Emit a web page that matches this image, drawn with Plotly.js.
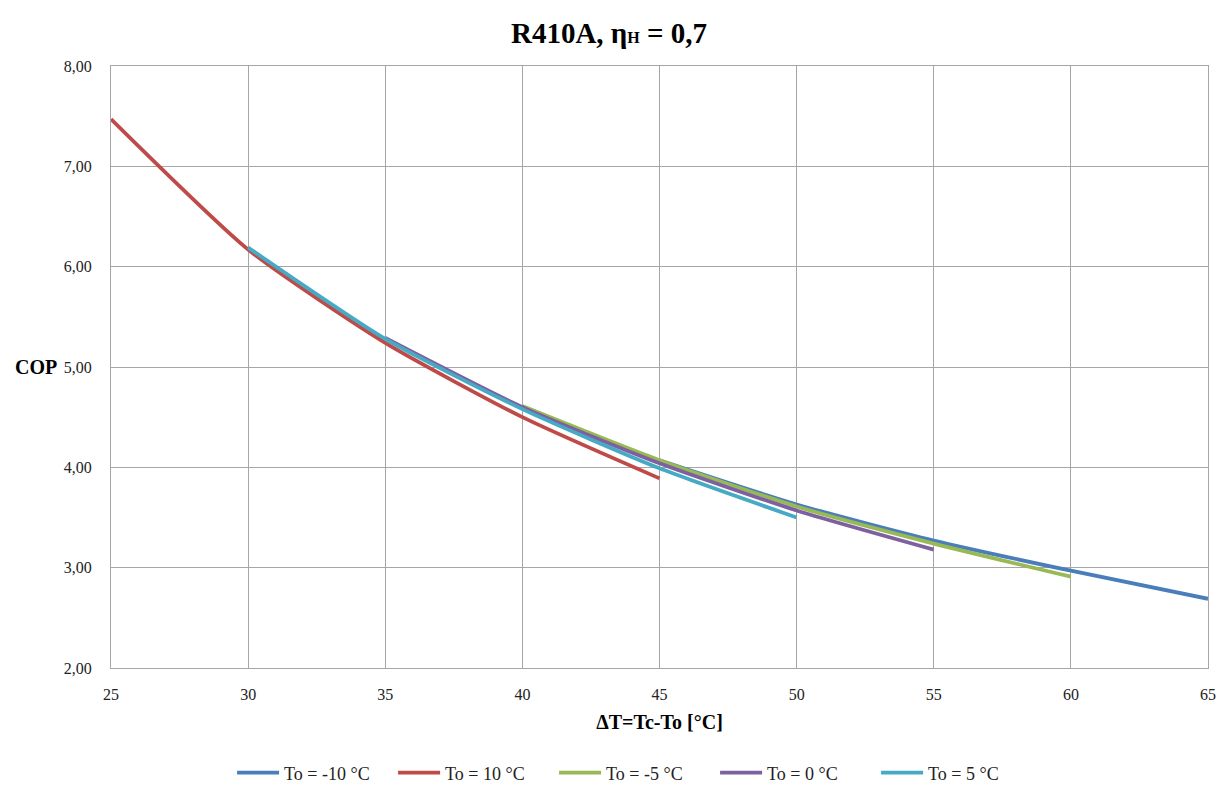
<!DOCTYPE html>
<html>
<head>
<meta charset="utf-8">
<script src="https://cdn.plot.ly/plotly-3.0.1.min.js"></script>
<style>html,body{margin:0;padding:0;background:#fff}</style>
</head>
<body>
<div id="chart" style="width:1218px;height:785px"></div>
<script>
const seriesNames = ["To = -10 °C", "To = 10 °C", "To = -5 °C", "To = 0 °C", "To = 5 °C"];
const xM10 = [45, 50, 55, 60, 65];
const yM10 = [4.07, 3.63, 3.27, 2.97, 2.69];
const xP10 = [25, 30, 35, 40, 45];
const yP10 = [7.47, 6.17, 5.24, 4.50, 3.89];
const xM5 = [40, 45, 50, 55, 60];
const yM5 = [4.61, 4.07, 3.61, 3.24, 2.91];
const x0 = [35, 40, 45, 50, 55];
const y0 = [5.29, 4.60, 4.04, 3.57, 3.18];
const xP5 = [30, 35, 40, 45, 50];
const yP5 = [6.19, 5.28, 4.58, 3.99, 3.50];
const colors = ["#4a7ebb", "#be4b48", "#98b954", "#7d60a0", "#46aac5"];
const xs = [xM10, xP10, xM5, x0, xP5];
const ys = [yM10, yP10, yM5, y0, yP5];

const serif = "'Liberation Serif', 'DejaVu Serif', serif";
const traces = seriesNames.map((n, i) => ({
  x: xs[i], y: ys[i], name: n, type: "scatter", mode: "lines",
  line: {color: colors[i], width: 3.8, shape: "spline", smoothing: 0.6}
}));
const layout = {
  width: 1218, height: 785,
  separators: ",.",
  paper_bgcolor: "#fff", plot_bgcolor: "#fff",
  margin: {l: 111, r: 10, t: 66, b: 117},
  title: {text: "<b>R410A, η<span style='font-size:16px'>H</span> = 0,7</b>", x: 0.5, xanchor: "center", y: 0.958, yanchor: "middle",
    font: {family: serif, size: 29, color: "#000"}},
  xaxis: {range: [25, 65], dtick: 5, tick0: 25, showgrid: true, gridcolor: "#a6a6a6", gridwidth: 1.3,
    showline: true, linecolor: "#a6a6a6", linewidth: 1.3, mirror: true, zeroline: false,
    ticks: "", tickfont: {family: serif, size: 16, color: "#222"}, ticklabelstandoff: 12,
    title: {text: "<b>ΔT=Tc-To [°C]</b>", font: {family: serif, size: 20, color: "#000"}, standoff: 12}},
  yaxis: {range: [2, 8], dtick: 1, tickformat: ".2f", showgrid: true, gridcolor: "#a6a6a6", gridwidth: 1.3,
    showline: true, linecolor: "#a6a6a6", linewidth: 1.3, mirror: true, zeroline: false,
    ticks: "", tickfont: {family: serif, size: 16, color: "#222"}, ticklabelstandoff: 15},
  legend: {orientation: "h", x: 0.521, xanchor: "center", xref: "container", y: 0.0153, yref: "container", yanchor: "middle",
    font: {family: serif, size: 18, color: "#222"}, itemwidth: 42, entrywidth: 104, entrywidthmode: "pixels", tracegroupgap: 0},
  annotations: [{text: "<b>COP</b>", xref: "paper", yref: "paper", x: -0.0893, y: 0.5, xanchor: "left", yanchor: "middle",
    showarrow: false, font: {family: serif, size: 20, color: "#000"}}],
  showlegend: true
};
Plotly.newPlot("chart", traces, layout, {displayModeBar: false});
</script>
</body>
</html>
